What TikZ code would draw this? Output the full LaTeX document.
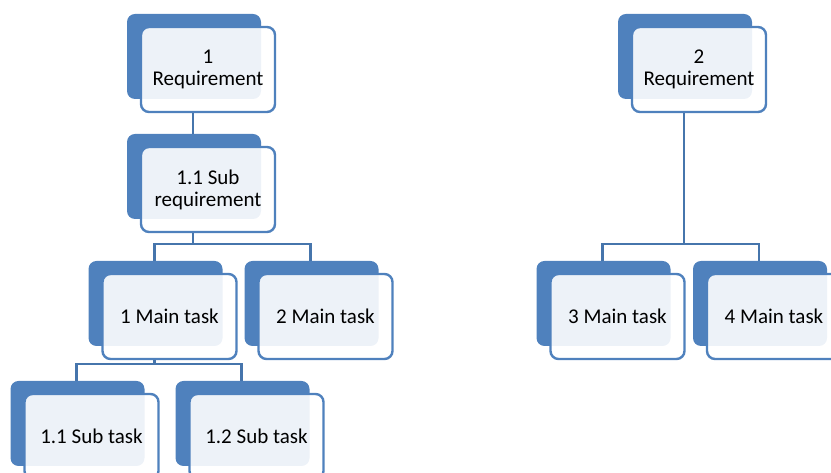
\documentclass[tikz,border=0pt]{standalone}
\usepackage{fontspec}
\setmainfont{Carlito}
\usepackage{tikz}
\usetikzlibrary{shadows}
\definecolor{boxblue}{RGB}{79,129,189}
\definecolor{linkblue}{RGB}{70,117,172}

\begin{document}
\begin{tikzpicture}[x=1pt,y=1pt,
	box/.style={rectangle,rounded corners=8pt,draw=boxblue,line width=2.4pt,fill=white,fill opacity=0.9,text opacity=1,minimum width=134pt,minimum height=85pt,align=center,font=\fontsize{21}{22}\selectfont,general shadow={fill=boxblue,fill opacity=1,draw=none,shadow xshift=-14pt,shadow yshift=13pt}},
	edge from parent/.style={draw=linkblue,line width=2.4pt},
	edge from parent path={([xshift=-15pt]\tikzparentnode.south) |- ([xshift=-15pt,yshift=29pt]\tikzchildnode.north) -- ([xshift=-15pt,yshift=12pt]\tikzchildnode.north)},
	level 1/.style={level distance=120pt},
	level 2/.style={level distance=127pt,sibling distance=156pt},
	level 3/.style={level distance=120pt,sibling distance=165pt}]
\useasboundingbox (0,0) rectangle (831,473);
\clip (0,0) rectangle (831,473);
\node[box] (req1) at (208,403.5) {1\\Requirement}
		child { node[box] (subreq) {1.1 Sub\\requirement}
		child[xshift=39.5pt] { node[box] (main1) {1 Main task}
			child[xshift=4.5pt] { node[box] (sub1) {1.1 Sub task} }
			child[xshift=4.5pt] { node[box] (sub2) {1.2 Sub task} }
		}
		child[xshift=39.5pt] { node[box] (main2) {2 Main task} }
};
\begin{scope}[level 1/.style={level distance=247pt,sibling distance=156.5pt}]
\node[box] (req2) at (699,403.5) {2\\Requirement}
		child[xshift=-3.25pt] { node[box] (main3) {3 Main task} }
		child[xshift=-3.25pt] { node[box] (main4) {4 Main task} };
\end{scope}
\end{tikzpicture}
\end{document}
